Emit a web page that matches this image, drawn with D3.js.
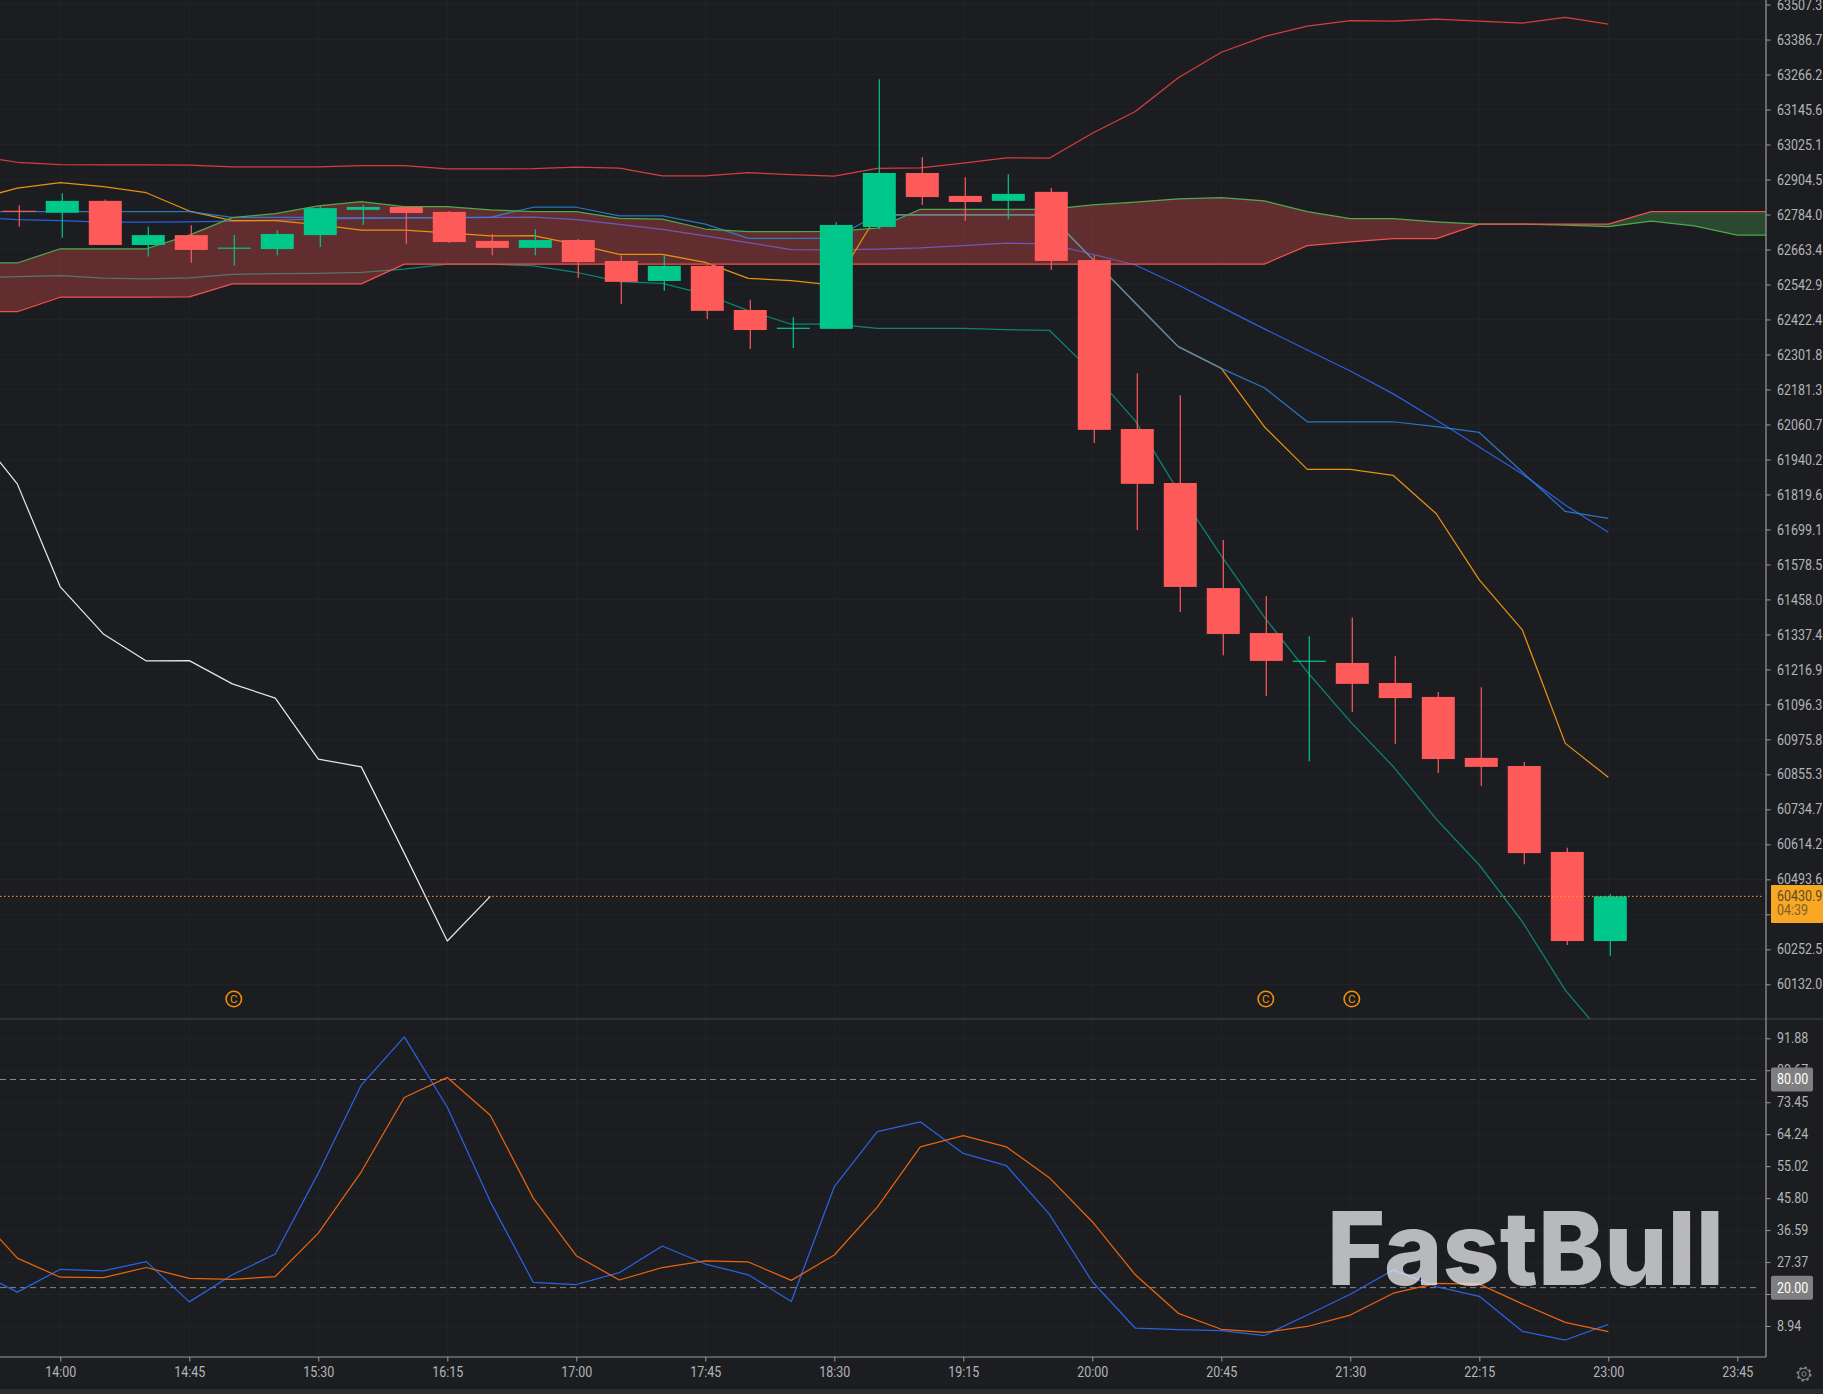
<!DOCTYPE html>
<html><head><meta charset="utf-8">
<script src="https://cdn.jsdelivr.net/npm/d3@7"></script>
<style>html,body{margin:0;padding:0;background:#1c1d21;overflow:hidden}svg{display:block}text{font-family:Roboto,sans-serif}</style>
</head><body><svg id="c" width="1823" height="1394"></svg>
<script>
const times=["13:30","13:45","14:00","14:15","14:30","14:45","15:00","15:15","15:30","15:45","16:00","16:15","16:30","16:45","17:00","17:15","17:30","17:45","18:00","18:15","18:30","18:45","19:00","19:15","19:30","19:45","20:00","20:15","20:30","20:45","21:00","21:15","21:30","21:45","22:00","22:15","22:30","22:45","23:00","23:15","23:30","23:45","00:00"];
const timeTicks=["14:00","14:45","15:30","16:15","17:00","17:45","18:30","19:15","20:00","20:45","21:30","22:15","23:00","23:45"];
const priceTicks=[63507.3,63386.7,63266.2,63145.6,63025.1,62904.5,62784.0,62663.4,62542.9,62422.4,62301.8,62181.3,62060.7,61940.2,61819.6,61699.1,61578.5,61458.0,61337.4,61216.9,61096.3,60975.8,60855.3,60734.7,60614.2,60493.6,60373.1,60252.5,60132.0];
const oscTicks=[91.88,82.67,73.45,64.24,55.02,45.80,36.59,27.37,18.16,8.94];
const coveredTicks=[60373.1,18.16];

// candles: 13:45 ... 23:00
const candleTimes=times.slice(1,39);
const opens=[62797,62790,62831,62679,62713,62666,62665,62713,62800,62810,62793,62693,62669,62696,62624,62555,62607,62455,62390,62390,62741,62927,62848,62831,62862,62627,62045,61859,61497,61342,61243,61239,61170,61122,60912,60884,60588,60281];
const closes=[62793,62831,62679,62713,62662,62670,62717,62806,62810,62789,62689,62669,62696,62620,62552,62607,62452,62386,62394,62748,62927,62844,62827,62855,62624,62042,61856,61501,61339,61246,61247,61167,61118,60908,60881,60584,60281,60435];
const highs=[62816,62857,62836,62743,62747,62713,62730,62813,62818,62810,62796,62717,62733,62700,62644,62644,62610,62490,62430,62757,63250,62981,62912,62923,62875,62644,62237,62161,61663,61470,61331,61396,61262,61139,61155,60898,60602,60443];
const lows=[62742,62704,62679,62639,62618,62608,62644,62672,62748,62682,62686,62644,62644,62565,62476,62521,62424,62321,62324,62390,62734,62817,62762,62768,62593,61997,61697,61415,61266,61125,60900,61070,60960,60860,60815,60546,60267,60230];

// indicator lines: start at 13:30
const bandUpper=[62986,62964,62956,62955,62955,62954,62948,62948,62948,62952,62952,62941,62941,62942,62947,62944,62917,62917,62928,62921,62916,62943,62945,62961,62979,62978,63064,63139,63255,63343,63397,63433,63452,63450,63457,63450,63443,63463,63440];
const bandMid=[62775,62766,62763,62758,62758,62759,62761,62765,62768,62771,62772,62772,62774,62775,62766,62750,62733,62710,62687,62663,62662,62665,62669,62677,62685,62683,62647,62610,62541,62465,62390,62317,62245,62166,62076,61983,61890,61783,61689];
const bandLower=[62565,62570,62573,62565,62562,62566,62578,62580,62581,62585,62596,62613,62613,62607,62585,62553,62547,62510,62453,62406,62406,62392,62392,62392,62387,62385,62241,62073,61831,61608,61397,61208,61037,60882,60701,60543,60348,60112,59937];
const conversion=[62835,62875,62894,62880,62859,62796,62763,62763,62749,62730,62730,62721,62710,62711,62681,62647,62647,62619,62564,62556,62541,62783,62783,62783,62783,62783,62631,62479,62329,62254,62053,61906,61906,61885,61753,61525,61353,60962,60845];
const base=[62794,62794,62794,62794,62794,62794,62774,62774,62774,62772,62772,62774,62774,62809,62809,62779,62779,62751,62702,62702,62702,62783,62783,62783,62783,62783,62631,62479,62329,62254,62187,62070,62070,62070,62053,62033,61897,61761,61737];
const spanA=[62617,62617,62666,62666,62666,62713,62773,62787,62814,62828,62811,62811,62800,62794,62794,62771,62768,62734,62725,62725,62726,62737,62802,62802,62802,62802,62817,62827,62838,62842,62831,62794,62770,62770,62759,62751,62751,62747,62742,62761,62745,62713,62713];
const spanB=[62449,62449,62499,62499,62499,62500,62545,62545,62545,62545,62613,62613,62613,62613,62613,62613,62613,62613,62613,62613,62613,62613,62613,62613,62613,62613,62613,62613,62613,62613,62613,62677,62690,62701,62701,62751,62751,62751,62751,62794,62794,62794,62794];
const lagging=[62042,61856,61501,61339,61246,61247,61167,61118,60908,60881,60584,60281,60435];

// stochastic: start at 13:30
const stochK=[25.1,18.7,25.3,24.8,27.5,15.9,23.7,29.7,53.0,78.4,92.3,72.0,44.8,21.5,20.9,24.3,32.0,26.8,23.7,16.0,49.1,65.0,67.8,58.7,55.2,41.2,21.7,8.3,7.9,7.6,6.2,12.1,18.1,25.1,20.3,17.5,7.4,4.9,9.4];
const stochD=[42.1,28.5,23.0,22.9,25.8,22.7,22.4,23.2,35.7,53.4,74.8,80.6,69.7,45.8,29.2,22.2,25.8,27.7,27.4,22.1,29.4,43.2,60.6,63.8,60.6,51.7,39.0,23.7,12.6,8.0,7.1,8.8,12.1,18.4,21.2,21.0,15.3,10.0,7.3];
const oscLevels=[80,20];
const lastPrice=60435, lastPriceLabel="60430.9", countdown="04:39";
const markerTimes=["15:00","21:00","21:30"];

const svg=d3.select("#c");
const W=1823,axisX=1766,mainBottom=1019,axisY=1357;
const x=d3.scalePoint().domain(times).range([-25.7,1780.3]);
const y=d3.scaleLinear().domain([60132,62784]).range([984.3,214.5]);
const yo=d3.scaleLinear().domain([8.94,91.88]).range([1326,1038.3]);
const candleShift=2,bodyW=33,squeeze=.86;

const defs=svg.append("defs");
defs.append("clipPath").attr("id","m").append("rect").attr("x",0).attr("y",0).attr("width",axisX).attr("height",mainBottom);
defs.append("clipPath").attr("id","o").append("rect").attr("x",0).attr("y",mainBottom+1).attr("width",axisX).attr("height",axisY-mainBottom-1);

svg.append("rect").attr("width",W).attr("height",1394).attr("fill","#1c1d21");
svg.append("rect").attr("y",1389).attr("width",W).attr("height",5).attr("fill","#2a2b30");

// grid
const grid=svg.append("g").attr("stroke","#212226").attr("stroke-width",1).attr("shape-rendering","crispEdges");
grid.selectAll(".h").data(priceTicks).join("line").attr("class","h").attr("x1",0).attr("x2",axisX).attr("y1",d=>y(d)).attr("y2",d=>y(d));
grid.selectAll(".ho").data(oscTicks).join("line").attr("class","ho").attr("x1",0).attr("x2",axisX).attr("y1",d=>yo(d)).attr("y2",d=>yo(d));
grid.selectAll(".v").data(timeTicks).join("line").attr("class","v").attr("x1",d=>x(d)).attr("x2",d=>x(d)).attr("y1",0).attr("y2",axisY);

const main=svg.append("g").attr("clip-path","url(#m)");
const lineOf=(vals,scale)=>d3.line().x((d,i)=>x(times[i])).y(d=>scale(d))(vals);
const draw=(g,vals,scale,color,w,op)=>g.append("path").attr("d",lineOf(vals,scale)).attr("fill","none").attr("stroke",color).attr("stroke-width",w||1.25).attr("stroke-opacity",op||1).attr("stroke-linejoin","round");

draw(main,bandUpper,y,"#d83c3c");
draw(main,bandMid,y,"#2a5fe0");
draw(main,bandLower,y,"#0b8576");
draw(main,lagging,y,"#e6e6e6");

// cloud
const idx=d3.range(spanA.length);
main.append("path").attr("fill","rgba(255,82,82,.31)").attr("d",d3.area().x(i=>x(times[i])).y0(i=>y(spanB[i])).y1(i=>y(Math.max(spanA[i],spanB[i])))(idx));
main.append("path").attr("fill","rgba(76,175,80,.3)").attr("d",d3.area().x(i=>x(times[i])).y0(i=>y(spanA[i])).y1(i=>y(Math.max(spanA[i],spanB[i])))(idx));

draw(main,conversion,y,"#e8900f");
draw(main,base,y,"#2b8ae0",1.25,.82);
draw(main,spanA,y,"#4fa84f");
draw(main,spanB,y,"#f0504f");

// candles
const cg=main.append("g");
const cdata=candleTimes.map((t,i)=>({t,o:opens[i],c:closes[i],h:highs[i],l:lows[i]}));
const col=d=>d.c>=d.o?"#00c78a":"#ff5a5a";
cg.selectAll(".w").data(cdata).join("line").attr("class","w").attr("x1",d=>x(d.t)+candleShift).attr("x2",d=>x(d.t)+candleShift).attr("y1",d=>y(d.h)).attr("y2",d=>y(d.l)).attr("stroke",col).attr("stroke-width",1.2);
cg.selectAll(".b").data(cdata).join("rect").attr("class","b").attr("x",d=>x(d.t)+candleShift-bodyW/2).attr("width",bodyW).attr("y",d=>y(Math.max(d.o,d.c))).attr("height",d=>Math.max(1.2,Math.abs(y(d.o)-y(d.c)))).attr("fill",col);

// last price line
svg.append("line").attr("x1",0).attr("x2",axisX-2).attr("y1",y(lastPrice)).attr("y2",y(lastPrice)).attr("stroke","#f5a623").attr("stroke-width",1).attr("stroke-dasharray","1.5 2.5");

// markers
const mk=svg.append("g").selectAll("g").data(markerTimes).join("g").attr("transform",d=>`translate(${x(d)+1.5},999)`);
mk.append("circle").attr("r",7.7).attr("fill","none").attr("stroke","#f08f0c").attr("stroke-width",1.6);
mk.append("text").text("C").attr("text-anchor","middle").attr("dy","0.36em").attr("font-size",11.5).attr("fill","#f08f0c");

// oscillator
const osc=svg.append("g").attr("clip-path","url(#o)");
osc.selectAll("line").data(oscLevels).join("line").attr("x1",0).attr("x2",1760).attr("y1",d=>yo(d)).attr("y2",d=>yo(d)).attr("stroke","#87888b").attr("stroke-width",1).attr("stroke-dasharray","6 4");
draw(osc,stochK,yo,"#2a62e0");
draw(osc,stochD,yo,"#e8640c");

// watermark
svg.append("text").text("FastBull").attr("x",1327).attr("y",1285).attr("font-size",102).attr("font-weight",800).attr("fill","#fff").attr("fill-opacity",.69).attr("textLength",397).attr("lengthAdjust","spacingAndGlyphs").style("font-family","Inter,Roboto,sans-serif");

// divider and axes
svg.append("line").attr("x1",0).attr("x2",W).attr("y1",mainBottom).attr("y2",mainBottom).attr("stroke","#45464a").attr("stroke-width",1.2);
const narrow=sel=>sel.each(function(){const t=d3.select(this),px=+t.attr("x")||0;t.attr("x",px/squeeze).attr("transform",`scale(${squeeze},1)`);});
const styleAxis=g=>{g.select(".domain").remove();g.selectAll("line").attr("stroke","#9a9b9f");g.selectAll("text").attr("fill","#b4b5b8").attr("font-size",14.5).attr("font-family","Roboto,sans-serif").call(narrow);};
const fmt=n=>d=>coveredTicks.includes(d)?"":d.toFixed(n);
const pa=svg.append("g").attr("transform",`translate(${axisX},0)`).call(d3.axisRight(y).tickValues(priceTicks).tickFormat(fmt(1)).tickSize(4.5).tickPadding(6.5));styleAxis(pa);
const oa=svg.append("g").attr("transform",`translate(${axisX},0)`).call(d3.axisRight(yo).tickValues(oscTicks).tickFormat(fmt(2)).tickSize(4.5).tickPadding(6.5));styleAxis(oa);
const xa=svg.append("g").attr("transform",`translate(0,${axisY})`).call(d3.axisBottom(x).tickValues(timeTicks).tickSize(4.5).tickPadding(5));styleAxis(xa);
svg.append("line").attr("x1",axisX).attr("x2",axisX).attr("y1",0).attr("y2",axisY).attr("stroke","#9a9b9f").attr("stroke-width",1.2);
svg.append("line").attr("x1",0).attr("x2",axisX).attr("y1",axisY).attr("y2",axisY).attr("stroke","#9a9b9f").attr("stroke-width",1.2);

// price tags
const tag=(tx,ty,w,h,fill,r)=>svg.append("rect").attr("x",tx).attr("y",ty).attr("width",w).attr("height",h).attr("fill",fill).attr("rx",r);
const label=(s,tx,ty,fill)=>svg.append("text").text(s).attr("x",tx).attr("y",ty).attr("font-size",14.5).attr("fill",fill).call(narrow);
tag(1771,885,52,38,"#f7a723",1);
label(lastPriceLabel,1777,901,"#5c4a22");
label(countdown,1777,915,"#7a6128");
oscLevels.forEach(v=>{tag(1771,yo(v)-12,42,24,"#7f7f7f",2);label(v.toFixed(2),1777,yo(v)+5,"#ffffff");});

// gear
const gear=svg.append("g").attr("transform","translate(1804,1374)").attr("fill","none").attr("stroke","#85868a").attr("stroke-width",1);
gear.append("circle").attr("r",5.6);
gear.append("circle").attr("r",2.2);
gear.append("circle").attr("r",6.6).attr("stroke-width",1.8).attr("stroke-dasharray","2.6 2.6");
</script></body></html>
